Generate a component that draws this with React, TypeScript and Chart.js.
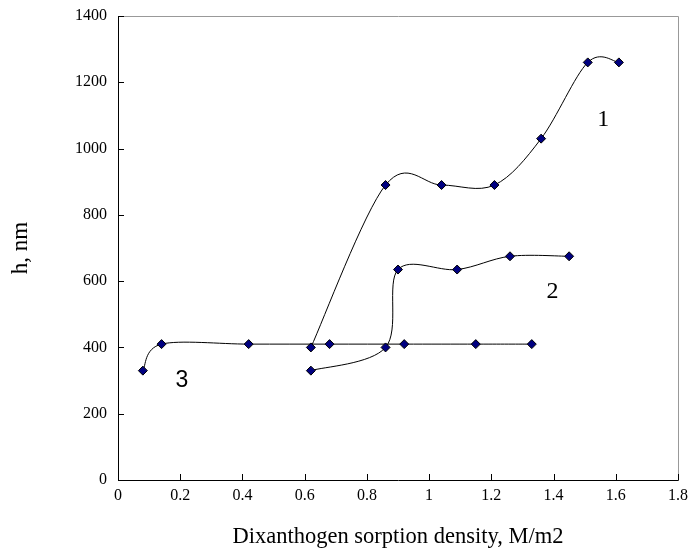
import React, { useEffect, useRef } from "react";
import { Chart, registerables } from "chart.js";

Chart.register(...registerables);

// Series 1
const s1X = [0.62, 0.86, 1.04, 1.21, 1.36, 1.51, 1.61];
const s1Y = [400, 890, 890, 890, 1030, 1260, 1260];
// Series 2
const s2X = [0.62, 0.86, 0.9, 1.09, 1.26, 1.45];
const s2Y = [330, 400, 635, 635, 675, 675];
// Series 3
const s3X = [0.08, 0.14, 0.42, 0.68, 0.92, 1.15, 1.33];
const s3Y = [330, 410, 410, 410, 410, 410, 410];

// Curve labels (data coordinates)
const curveLabels = ["1", "2", "3"];
const curveLabelX = [1.56, 1.397, 0.205];
const curveLabelY = [1086, 568, 299];
const curveLabelFonts = [
  '24px "Liberation Serif", "Times New Roman", serif',
  '24px "Liberation Serif", "Times New Roman", serif',
  '23px "Liberation Sans", Arial, sans-serif',
];

const xTitle = "Dixanthogen sorption density, M/m2";
const yTitle = "h, nm";

const SERIF = '"Liberation Serif", "Times New Roman", serif';

function toPoints(xs: number[], ys: number[]) {
  return xs.map((x, i) => ({ x, y: ys[i] }));
}

// Excel-like smoothing: Catmull-Rom control points (1/6 of neighbour span) in pixel space
const excelSmooth = {
  id: "excelSmooth",
  beforeDatasetsDraw(chart: any) {
    chart.getSortedVisibleDatasetMetas().forEach((meta: any) => {
      const pts = meta.data;
      const n = pts.length;
      for (let i = 0; i < n; i++) {
        const p = pts[i];
        const prev = pts[Math.max(0, i - 1)];
        const next = pts[Math.min(n - 1, i + 1)];
        const dx = (next.x - prev.x) / 6;
        const dy = (next.y - prev.y) / 6;
        p.cp1x = p.x - dx;
        p.cp1y = p.y - dy;
        p.cp2x = p.x + dx;
        p.cp2y = p.y + dy;
      }
      if (meta.dataset) {
        meta.dataset._pointsUpdated = true;
        meta.dataset._path = undefined;
      }
    });
  },
};

const frameAndTicks = {
  id: "frameAndTicks",
  beforeDatasetsDraw(chart: any) {
    const { ctx, chartArea, scales } = chart;
    ctx.save();
    ctx.strokeStyle = "#999999";
    ctx.lineWidth = 1;
    ctx.beginPath();
    ctx.moveTo(Math.round(chartArea.left) + 0.5, Math.round(chartArea.top) + 0.5);
    ctx.lineTo(Math.round(chartArea.right) + 0.5, Math.round(chartArea.top) + 0.5);
    ctx.lineTo(Math.round(chartArea.right) + 0.5, Math.round(chartArea.bottom) + 0.5);
    ctx.stroke();

    ctx.strokeStyle = "#000000";
    ctx.beginPath();
    const xs = scales.x;
    xs.ticks.forEach((t: any) => {
      const px = Math.round(xs.getPixelForValue(t.value)) + 0.5;
      ctx.moveTo(px, chartArea.bottom);
      ctx.lineTo(px, chartArea.bottom - 6);
    });
    const ys = scales.y;
    ys.ticks.forEach((t: any) => {
      const py = Math.round(ys.getPixelForValue(t.value)) + 0.5;
      ctx.moveTo(chartArea.left, py);
      ctx.lineTo(chartArea.left + 6, py);
    });
    ctx.stroke();
    ctx.restore();
  },
  afterDatasetsDraw(chart: any) {
    const { ctx, scales } = chart;
    ctx.save();
    ctx.fillStyle = "#000000";
    ctx.textAlign = "center";
    ctx.textBaseline = "middle";
    curveLabels.forEach((lbl, i) => {
      ctx.font = curveLabelFonts[i];
      ctx.fillText(
        lbl,
        scales.x.getPixelForValue(curveLabelX[i]),
        scales.y.getPixelForValue(curveLabelY[i])
      );
    });
    ctx.restore();
  },
};

function zeroPadding(s: any) {
  s.paddingTop = 0;
  s.paddingBottom = 0;
  s.paddingLeft = 0;
  s.paddingRight = 0;
}

export default function App() {
  const ref = useRef<HTMLCanvasElement | null>(null);

  useEffect(() => {
    if (!ref.current) return;
    const common = {
      showLine: true,
      borderColor: "#000000",
      borderWidth: 1,
      tension: 0.4,
      pointStyle: "rectRot",
      pointRadius: 4.5,
      pointBackgroundColor: "#000080",
      pointBorderColor: "#000000",
      pointBorderWidth: 1,
      fill: false,
    };
    const chart = new Chart(ref.current, {
      type: "scatter",
      data: {
        datasets: [
          { ...common, label: "1", data: toPoints(s1X, s1Y) },
          { ...common, label: "2", data: toPoints(s2X, s2Y) },
          { ...common, label: "3", data: toPoints(s3X, s3Y) },
        ],
      } as any,
      options: {
        animation: false,
        responsive: false,
        devicePixelRatio: 1,
        layout: { padding: { top: 16, right: 13, left: 0, bottom: 0 } },
        plugins: {
          legend: { display: false },
          tooltip: { enabled: false },
        },
        scales: {
          x: {
            type: "linear",
            min: 0,
            max: 1.8,
            afterFit: (s: any) => {
              s.height = 71;
              zeroPadding(s);
            },
            ticks: {
              stepSize: 0.2,
              padding: 6,
              color: "#000000",
              font: { family: SERIF, size: 16 },
              callback: (v: any) => String(Number(Number(v).toFixed(1))),
              maxRotation: 0,
            },
            grid: { display: false, drawTicks: false },
            border: { display: true, color: "#000000", width: 1 },
            title: {
              display: true,
              text: xTitle,
              color: "#000000",
              font: { family: SERIF, size: 22.5 },
              padding: { top: 0, bottom: 0 },
            },
          },
          y: {
            type: "linear",
            min: 0,
            max: 1400,
            afterFit: (s: any) => {
              s.width = 118;
              zeroPadding(s);
            },
            ticks: {
              stepSize: 200,
              padding: 11,
              color: "#000000",
              font: { family: SERIF, size: 16 },
              callback: (v: any) => String(v),
            },
            grid: { display: false, drawTicks: false },
            border: { display: true, color: "#000000", width: 1 },
            title: {
              display: true,
              text: yTitle,
              color: "#000000",
              font: { family: SERIF, size: 23 },
              padding: { top: 7, bottom: 0 },
            },
          },
        },
      } as any,
      plugins: [excelSmooth, frameAndTicks],
    });
    return () => chart.destroy();
  }, []);

  return (
    <div style={{ position: "absolute", left: 0, top: 0, width: 691, height: 551, background: "#ffffff" }}>
      <canvas ref={ref} width={691} height={551} style={{ width: 691, height: 551, display: "block" }} />
    </div>
  );
}
